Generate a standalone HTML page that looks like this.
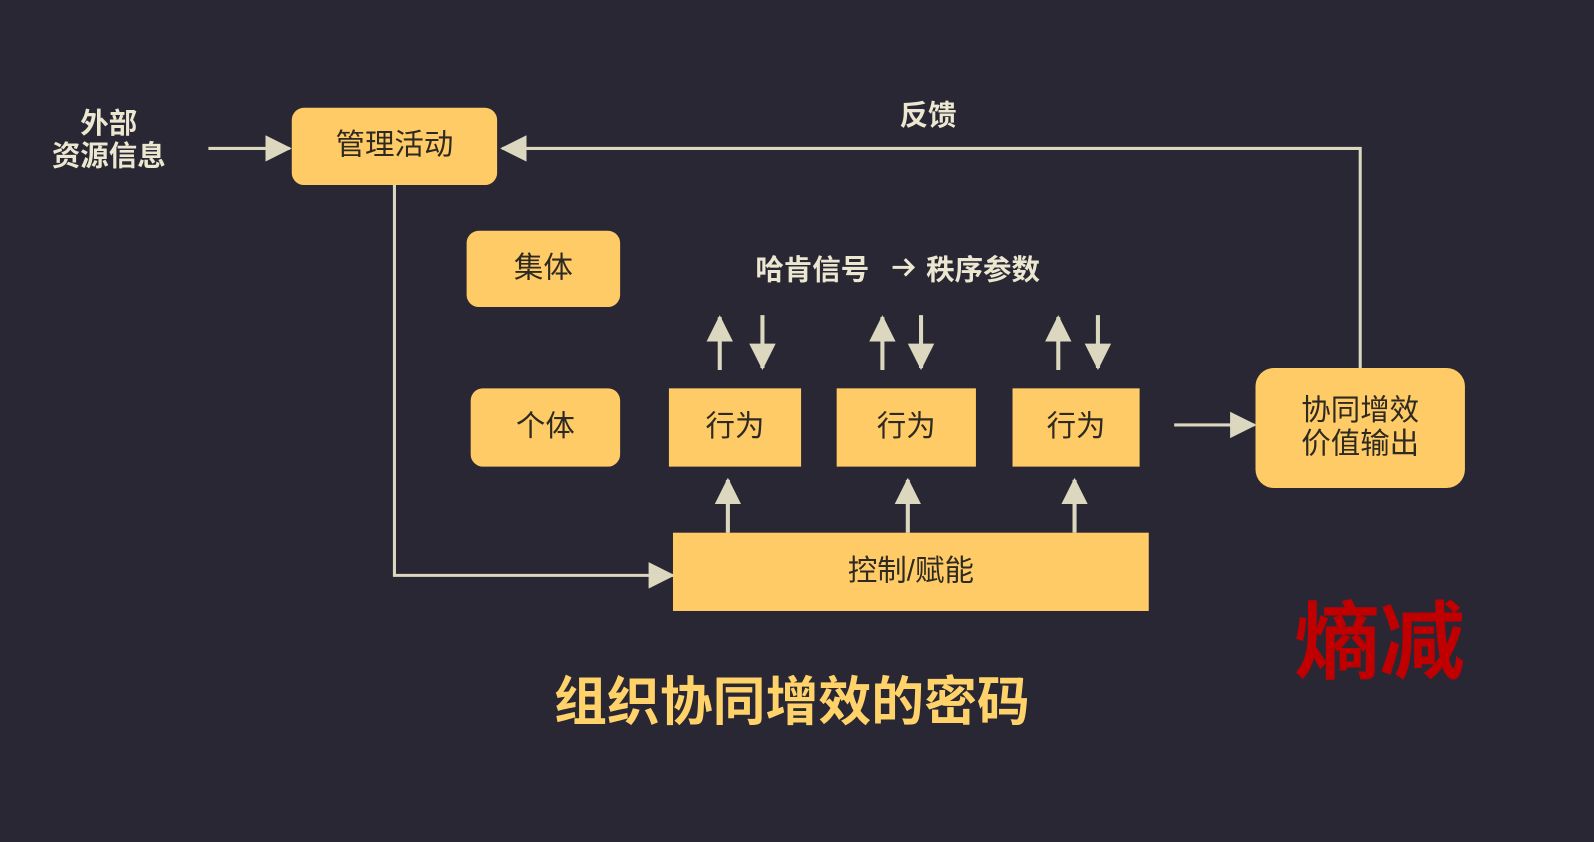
<!DOCTYPE html><html><head><meta charset="utf-8"><style>
html,body{margin:0;padding:0;width:1594px;height:842px;overflow:hidden;background:#292733}
#w{position:absolute;left:0;top:0;width:1568px;height:828px;transform:scale(1.0166);transform-origin:0 0;font-family:"Liberation Sans","Noto Sans CJK SC",sans-serif}
.b{position:absolute;background:#ffcb66;color:#2e2a22;font-size:29px;display:flex;align-items:center;justify-content:center;text-align:center;line-height:1.15}
.t{position:absolute;color:#ebe7d0;font-weight:bold;font-size:28px;text-align:center;white-space:nowrap}
svg{position:absolute;left:0;top:0}
</style></head><body><div id="w">
<svg width="1568" height="828"><defs>
<marker id="m" markerWidth="26" markerHeight="26" refX="24" refY="13" orient="auto" markerUnits="userSpaceOnUse"><path d="M0,0 L26,13 L0,26z" fill="#dcd8c0"/></marker></defs>
<g stroke="#dcd8c0" stroke-width="3" fill="none">
<path d="M205 146 H285" marker-end="url(#m)"/>
<path d="M1338 362 V146 H494" marker-end="url(#m)"/>
<path d="M388 182 V566 H662" marker-end="url(#m)"/>
<path d="M1155 418 H1234" marker-end="url(#m)"/>
<path d="M708 364 V312" stroke-width="4" marker-end="url(#m)"/>
<path d="M750 310 V362" stroke-width="4" marker-end="url(#m)"/>
<path d="M868 364 V312" stroke-width="4" marker-end="url(#m)"/>
<path d="M906 310 V362" stroke-width="4" marker-end="url(#m)"/>
<path d="M1041 364 V312" stroke-width="4" marker-end="url(#m)"/>
<path d="M1080 310 V362" stroke-width="4" marker-end="url(#m)"/>
<path d="M716 524 V472" stroke-width="4" marker-end="url(#m)"/>
<path d="M893 524 V472" stroke-width="4" marker-end="url(#m)"/>
<path d="M1057 524 V472" stroke-width="4" marker-end="url(#m)"/>
<path d="M878 263 H898 M890 255 L898 263 L890 271" stroke="#ebe7d0" stroke-width="3"/>
</g></svg>
<div class="t" style="left:37px;top:106px;width:140px;line-height:32px">外部<br>资源信息</div>
<div class="t" style="left:863px;top:92px;width:100px">反馈</div>
<div class="t" style="left:743px;top:244px;text-align:left">哈肯信号</div>
<div class="t" style="left:911px;top:244px;text-align:left">秩序参数</div>
<div class="b" style="left:287px;top:106px;width:202px;height:76px;border-radius:12px">管理活动</div>
<div class="b" style="left:459px;top:227px;width:151px;height:75px;border-radius:12px">集体</div>
<div class="b" style="left:463px;top:382px;width:147px;height:77px;border-radius:12px">个体</div>
<div class="b" style="left:658px;top:382px;width:130px;height:77px">行为</div>
<div class="b" style="left:823px;top:382px;width:137px;height:77px">行为</div>
<div class="b" style="left:996px;top:382px;width:125px;height:77px">行为</div>
<div class="b" style="left:1235px;top:362px;width:206px;height:118px;border-radius:18px">协同增效<br>价值输出</div>
<div class="b" style="left:662px;top:524px;width:468px;height:77px">控制/赋能</div>
<div style="position:absolute;left:429px;top:656px;width:700px;text-align:center;color:#ffd36a;font-weight:bold;font-size:52px;line-height:70px">组织协同增效的密码</div>
<div style="position:absolute;left:1262px;top:582px;width:190px;text-align:center;color:#c00000;font-weight:bold;font-size:84px;line-height:100px">熵减</div>
</div></body></html>
